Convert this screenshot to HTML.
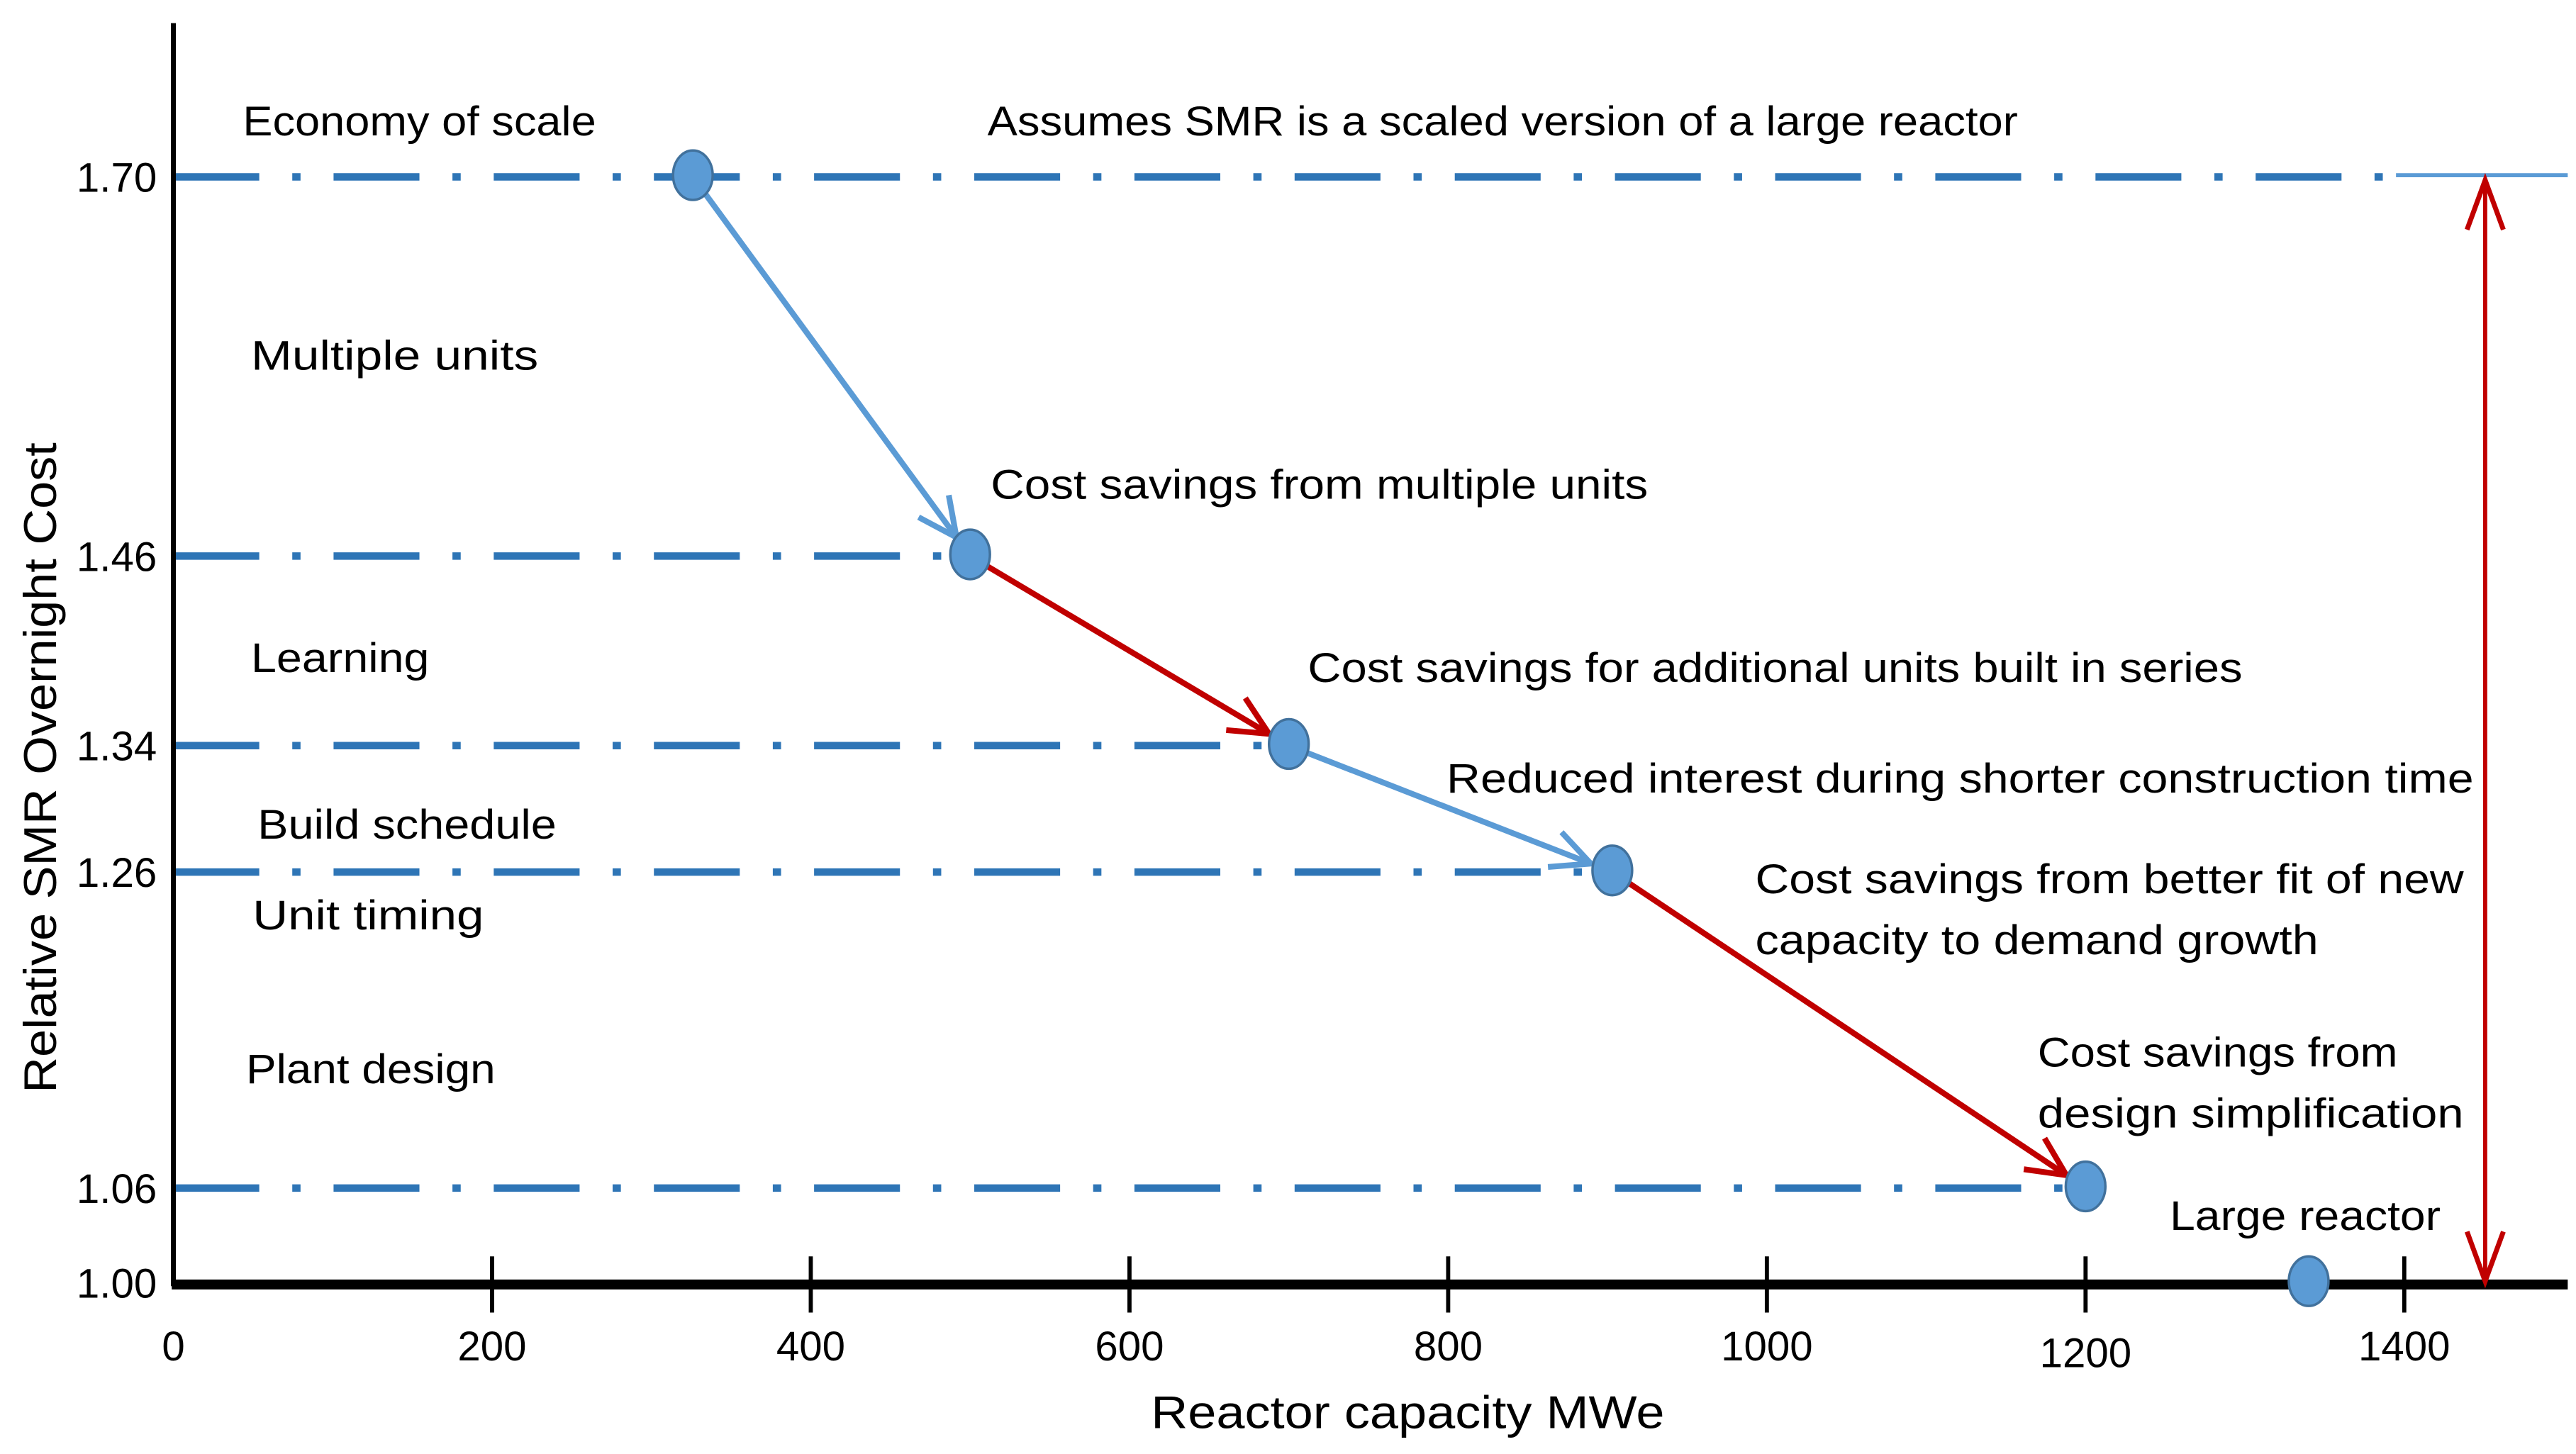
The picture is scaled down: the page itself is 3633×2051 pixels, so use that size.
<!DOCTYPE html>
<html><head><meta charset="utf-8"><style>
html,body{margin:0;padding:0;background:#fff}
svg{display:block}
text{font-family:"Liberation Sans",sans-serif;fill:#000}
</style></head><body>
<svg id="chart" width="3633" height="2051" viewBox="0 0 1560 880.66" xmlns="http://www.w3.org/2000/svg">
<g id="grid"></g>
<g id="axes"></g>
<g id="arrows"></g>
<g id="points"></g>
<g id="labels" font-size="25">
<text x="147" y="82" textLength="214" lengthAdjust="spacingAndGlyphs">Economy of scale</text>
<text x="598" y="82" textLength="624" lengthAdjust="spacingAndGlyphs">Assumes SMR is a scaled version of a large reactor</text>
<text x="152" y="224" textLength="174" lengthAdjust="spacingAndGlyphs">Multiple units</text>
<text x="600" y="302" textLength="398" lengthAdjust="spacingAndGlyphs">Cost savings from multiple units</text>
<text x="152" y="407" textLength="108" lengthAdjust="spacingAndGlyphs">Learning</text>
<text x="792" y="413" textLength="566" lengthAdjust="spacingAndGlyphs">Cost savings for additional units built in series</text>
<text x="876" y="480" textLength="622" lengthAdjust="spacingAndGlyphs">Reduced interest during shorter construction time</text>
<text x="156" y="508" textLength="181" lengthAdjust="spacingAndGlyphs">Build schedule</text>
<text x="153" y="563" textLength="140" lengthAdjust="spacingAndGlyphs">Unit timing</text>
<text x="1063" y="541" textLength="429" lengthAdjust="spacingAndGlyphs">Cost savings from better fit of new</text>
<text x="1063" y="578" textLength="341" lengthAdjust="spacingAndGlyphs">capacity to demand growth</text>
<text x="149" y="656" textLength="151" lengthAdjust="spacingAndGlyphs">Plant design</text>
<text x="1234" y="646" textLength="218" lengthAdjust="spacingAndGlyphs">Cost savings from</text>
<text x="1234" y="683" textLength="258" lengthAdjust="spacingAndGlyphs">design simplification</text>
<text x="1314" y="745" textLength="164" lengthAdjust="spacingAndGlyphs">Large reactor</text>
<text x="697" y="865" font-size="28" textLength="311" lengthAdjust="spacingAndGlyphs">Reactor capacity MWe</text>
<text transform="translate(34,662) rotate(-90)" font-size="28" textLength="394" lengthAdjust="spacingAndGlyphs">Relative SMR Overnight Cost</text>
</g>
</svg>
<script>
const NS='http://www.w3.org/2000/svg';
const xTicks=[0,200,400,600,800,1000,1200,1400];
const yTicks=[1.70,1.46,1.34,1.26,1.06,1.00];
const pointCap=[326,500,700,903,1200,1340];
const pointCost=[1.70,1.46,1.34,1.26,1.06,1.00];
const arrowColor=['blue','red','blue','red'];
function X(v){return 105+v*0.965;}
function Y(v){return 777-(v-1)*957;}
function mk(tag,attrs,parent){const e=document.createElementNS(NS,tag);for(const k in attrs)e.setAttribute(k,attrs[k]);parent.appendChild(e);return e;}
const grid=document.getElementById('grid'),axes=document.getElementById('axes'),arrows=document.getElementById('arrows'),points=document.getElementById('points');
for(let i=0;i<pointCost.length-1;i++){
  const endX=i===0?X(1400)-5:X(pointCap[i])-8;
  const l=mk('line',{x1:X(0),y1:Y(pointCost[i]),x2:endX,y2:Y(pointCost[i]),stroke:'#2e75b6','stroke-width':4.5,'stroke-dasharray':'52 20 5 20'},grid);
  
  
}
const sl=mk('line',{x1:X(1400)-5,y1:Y(1.70)-1,x2:1555,y2:Y(1.70)-1,stroke:'#5b9bd5','stroke-width':2.5},grid);


const ya=mk('line',{x1:105,y1:14,x2:105,y2:779,stroke:'#000','stroke-width':3},axes);


const xa=mk('line',{x1:104,y1:778,x2:1555,y2:778,stroke:'#000','stroke-width':6},axes);


xTicks.forEach(v=>{
  if(v>0){const t=mk('line',{x1:X(v),y1:761,x2:X(v),y2:795,stroke:'#000','stroke-width':2.5},axes);
  
  }
  const tx=mk('text',{x:X(v),y:v===1200?828:824,'text-anchor':'middle','font-size':25},axes);tx.textContent=v;
  
  
});
yTicks.forEach(v=>{
  const tx=mk('text',{x:95,y:Y(v)+9,'text-anchor':'end','font-size':25},axes);tx.textContent=v.toFixed(2);
  
  
});
for(let i=0;i<arrowColor.length;i++){
  const col=arrowColor[i]==='red'?'#c00000':'#5b9bd5';
  const x1=X(pointCap[i]),y1=Y(pointCost[i]),x2=X(pointCap[i+1]),y2=Y(pointCost[i+1]);
  const dx=x2-x1,dy=y2-y1,L=Math.hypot(dx,dy),ux=dx/L,uy=dy/L;
  const tx=x2-ux*14,ty=y2-uy*14;
  const g=mk('g',{},arrows);
  
  
  mk('line',{x1:x1,y1:y1,x2:tx,y2:ty,stroke:col,'stroke-width':3.5},g);
  const a=0.45,h=26;
  const ax=tx-h*(ux*Math.cos(a)-uy*Math.sin(a)),ay=ty-h*(uy*Math.cos(a)+ux*Math.sin(a));
  const bx=tx-h*(ux*Math.cos(a)+uy*Math.sin(a)),by=ty-h*(uy*Math.cos(a)-ux*Math.sin(a));
  mk('polyline',{points:ax+','+ay+' '+tx+','+ty+' '+bx+','+by,fill:'none',stroke:col,'stroke-width':3.5},g);
}
const dv=mk('g',{},arrows);


const vx=1505,vt=Y(1.70)+2,vb=Y(1.00)-1;
mk('line',{x1:vx,y1:vt,x2:vx,y2:vb,stroke:'#c00000','stroke-width':2.5},dv);
mk('polyline',{points:(vx-11)+','+(vt+30)+' '+vx+','+vt+' '+(vx+11)+','+(vt+30),fill:'none',stroke:'#c00000','stroke-width':3},dv);
mk('polyline',{points:(vx-11)+','+(vb-30)+' '+vx+','+vb+' '+(vx+11)+','+(vb-30),fill:'none',stroke:'#c00000','stroke-width':3},dv);
pointCap.forEach((c,i)=>{
  const e=mk('ellipse',{cx:X(c),cy:Y(pointCost[i])-1,rx:12,ry:15,fill:'#5b9bd5',stroke:'#41719c','stroke-width':1.5},points);
  
  
});
</script>
</body></html>
